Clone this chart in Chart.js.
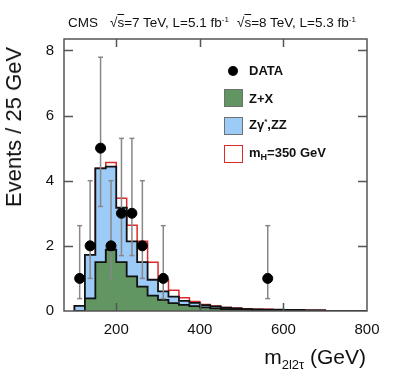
<!DOCTYPE html>
<html>
<head>
<meta charset="utf-8">
<script src="https://cdn.jsdelivr.net/npm/chart.js@4.4.1/dist/chart.umd.min.js"></script>
<style>
  body { margin: 0; background: #fff; }
  #wrap { position: relative; width: 399px; height: 375px; font-family: "Liberation Sans", Arial, sans-serif; color: #111; }
  #c { position: absolute; left: 0; top: 0; }
  .txt { position: absolute; white-space: nowrap; line-height: 1; }
  .ov { text-decoration: overline; }
  .sup { font-size: 8px; vertical-align: 5px; }
  .leg { position: absolute; white-space: nowrap; font-weight: bold; font-size: 13px; line-height: 1; }
  .box { position: absolute; width: 19px; height: 18px; box-sizing: border-box; }
</style>
</head>
<body>
<div id="wrap">
  <canvas id="c" width="399" height="375"></canvas>

  <div class="txt" style="left:68px; top:16px; font-size:13.5px;">CMS</div>
  <div class="txt" style="left:110px; top:16px; font-size:13.5px;">√<span class="ov">s</span>=7 TeV, L=5.1 fb<span class="sup">-1</span></div>
  <div class="txt" style="left:237px; top:16px; font-size:13.5px;">√<span class="ov">s</span>=8 TeV, L=5.3 fb<span class="sup">-1</span></div>

  <div class="txt" style="left:14px; top:127px; font-size:22px; transform: translate(-50%,-50%) rotate(-90deg);">Events / 25 GeV</div>
  <div class="txt" style="right:33px; top:346px; font-size:21px;">m<span style="font-size:13px; vertical-align:-5px;">2l2τ</span> (GeV)</div>

  <div style="position:absolute; left:228px; top:66px; width:10px; height:10px; border-radius:50%; background:#000;"></div>
  <div class="leg" style="left:249px; top:64px;">DATA</div>
  <div class="box" style="left:224px; top:89px; background:#619562; border:1.5px solid #707070;"></div>
  <div class="leg" style="left:249px; top:92px;">Z+X</div>
  <div class="box" style="left:224px; top:117px; background:#9ccbf8; border:1.5px solid #707070;"></div>
  <div class="leg" style="left:249px; top:118px;">Zγ<span style="font-size:8px; vertical-align:5px;">*</span>,ZZ</div>
  <div class="box" style="left:224px; top:145px; background:#fff; border:1.5px solid #dd2a2a;"></div>
  <div class="leg" style="left:249px; top:146px;">m<span style="font-size:9px; vertical-align:-3px;">H</span>=350 GeV</div>
</div>

<script>
// bin edges (GeV), 25 GeV bins
const binEdges = [100, 125, 150, 175, 200, 225, 250, 275, 300, 325, 350, 375, 400, 425, 450,
                  475, 500, 525, 550, 575, 600, 625, 650, 675, 700, 725, 750, 775, 800];

// stacked histogram heights per bin (events / 25 GeV)
const zPlusX     = [0, 0.39, 1.50, 1.88, 1.50, 1.06, 0.75, 0.47, 0.34, 0.24, 0.19, 0.15, 0.11, 0.08,
                    0.06, 0.05, 0.04, 0.03, 0.03, 0.02, 0.02, 0.02, 0.01, 0.01, 0, 0, 0, 0];
const bkgTotal   = [0.16, 1.72, 4.38, 4.43, 3.17, 2.14, 1.50, 0.96, 0.60, 0.44, 0.31, 0.25, 0.18, 0.14,
                    0.10, 0.08, 0.06, 0.05, 0.04, 0.04, 0.03, 0.03, 0.02, 0.02, 0, 0, 0, 0];
const sigPlusBkg = [0.16, 1.72, 4.38, 4.56, 3.46, 2.63, 2.14, 1.50, 0.96, 0.64, 0.41, 0.29, 0.20, 0.15,
                    0.11, 0.09, 0.07, 0.05, 0.05, 0.04, 0.03, 0.03, 0.02, 0.02, 0, 0, 0, 0];

// observed events
const dataX    = [112.5, 137.5, 162.5, 187.5, 212.5, 237.5, 262.5, 312.5, 562.5];
const dataY    = [1, 2, 5, 2, 3, 3, 2, 1, 1];
const errLow   = [0.38, 1.0, 3.21, 1.0, 1.70, 1.70, 1.0, 0.38, 0.38];
const errHigh  = [2.62, 4.0, 7.79, 4.0, 5.30, 5.30, 4.0, 2.62, 2.62];

const xTicks = [200, 400, 600, 800];
const yTicks = [0, 2, 4, 6, 8];

function histPoints(vals) {
  const pts = [{ x: binEdges[0], y: 0 }];
  vals.forEach((v, i) => pts.push({ x: binEdges[i], y: v }));
  pts.push({ x: binEdges[binEdges.length - 1], y: vals[vals.length - 1] });
  return pts;
}

const errPoints = [];
dataX.forEach((x, i) => {
  errPoints.push({ x: x, y: errLow[i] });
  errPoints.push({ x: x, y: errHigh[i] });
  errPoints.push({ x: x, y: null });
});

// frame + inward ticks like ROOT
const framePlugin = {
  id: 'frame',
  afterDraw(chart) {
    const ctx = chart.ctx;
    const a = chart.chartArea;
    const xs = chart.scales.x, ys = chart.scales.y;
    ctx.save();
    ctx.strokeStyle = '#555';
    ctx.lineWidth = 1.5;
    ctx.strokeRect(a.left, a.top, a.right - a.left, a.bottom - a.top);
    ctx.beginPath();
    xTicks.forEach(v => {
      const px = Math.round(xs.getPixelForValue(v)) + 0.5;
      if (px > a.right - 2) return;
      ctx.moveTo(px, a.bottom); ctx.lineTo(px, a.bottom - 8);
      ctx.moveTo(px, a.top); ctx.lineTo(px, a.top + 8);
    });
    yTicks.forEach(v => {
      const py = Math.round(ys.getPixelForValue(v)) + 0.5;
      if (py > a.bottom - 2) return;
      ctx.moveTo(a.left, py); ctx.lineTo(a.left + 9, py);
      ctx.moveTo(a.right, py); ctx.lineTo(a.right - 9, py);
    });
    ctx.stroke();
    ctx.restore();
  }
};

new Chart(document.getElementById('c'), {
  type: 'line',
  data: {
    datasets: [
      {
        label: 'DATA',
        type: 'scatter',
        data: dataX.map((x, i) => ({ x: x, y: dataY[i] })),
        pointRadius: 5,
        pointBackgroundColor: '#000',
        pointBorderColor: '#000',
        showLine: false,
        order: 0
      },
      {
        label: 'err',
        data: errPoints,
        borderColor: '#888',
        borderWidth: 1.5,
        pointStyle: 'line',
        pointRadius: 2.5,
        pointBorderColor: '#888',
        pointBorderWidth: 1.5,
        spanGaps: false,
        fill: false,
        order: 1
      },
      {
        label: 'Z+X',
        data: histPoints(zPlusX),
        stepped: true,
        borderColor: '#111',
        borderWidth: 1.8,
        backgroundColor: '#619562',
        fill: 'origin',
        pointRadius: 0,
        order: 2
      },
      {
        label: 'ZZ',
        data: histPoints(bkgTotal),
        stepped: true,
        borderColor: '#111',
        borderWidth: 1.8,
        backgroundColor: '#9ccbf8',
        fill: 2,
        pointRadius: 0,
        order: 3
      },
      {
        label: 'mH=350',
        data: histPoints(sigPlusBkg),
        stepped: true,
        borderColor: '#dd2a2a',
        borderWidth: 1.5,
        fill: false,
        pointRadius: 0,
        order: 4
      }
    ]
  },
  options: {
    responsive: false,
    animation: false,
    layout: { padding: { top: 39, right: 32, left: 0, bottom: 0 } },
    plugins: { legend: { display: false }, tooltip: { enabled: false } },
    scales: {
      x: {
        type: 'linear',
        min: 75,
        max: 800,
        afterBuildTicks: s => { s.ticks = xTicks.map(v => ({ value: v })); },
        afterFit: s => { s.height = 64; },
        grid: { display: false, drawTicks: false },
        border: { display: false },
        ticks: { color: '#111', padding: 10, font: { family: 'Liberation Sans', size: 15 } }
      },
      y: {
        min: 0,
        max: 8.35,
        afterBuildTicks: s => { s.ticks = yTicks.map(v => ({ value: v })); },
        afterFit: s => { s.width = 64; },
        grid: { display: false, drawTicks: false },
        border: { display: false },
        ticks: { color: '#111', padding: 10, font: { family: 'Liberation Sans', size: 15 } }
      }
    }
  },
  plugins: [framePlugin]
});
</script>
</body>
</html>
